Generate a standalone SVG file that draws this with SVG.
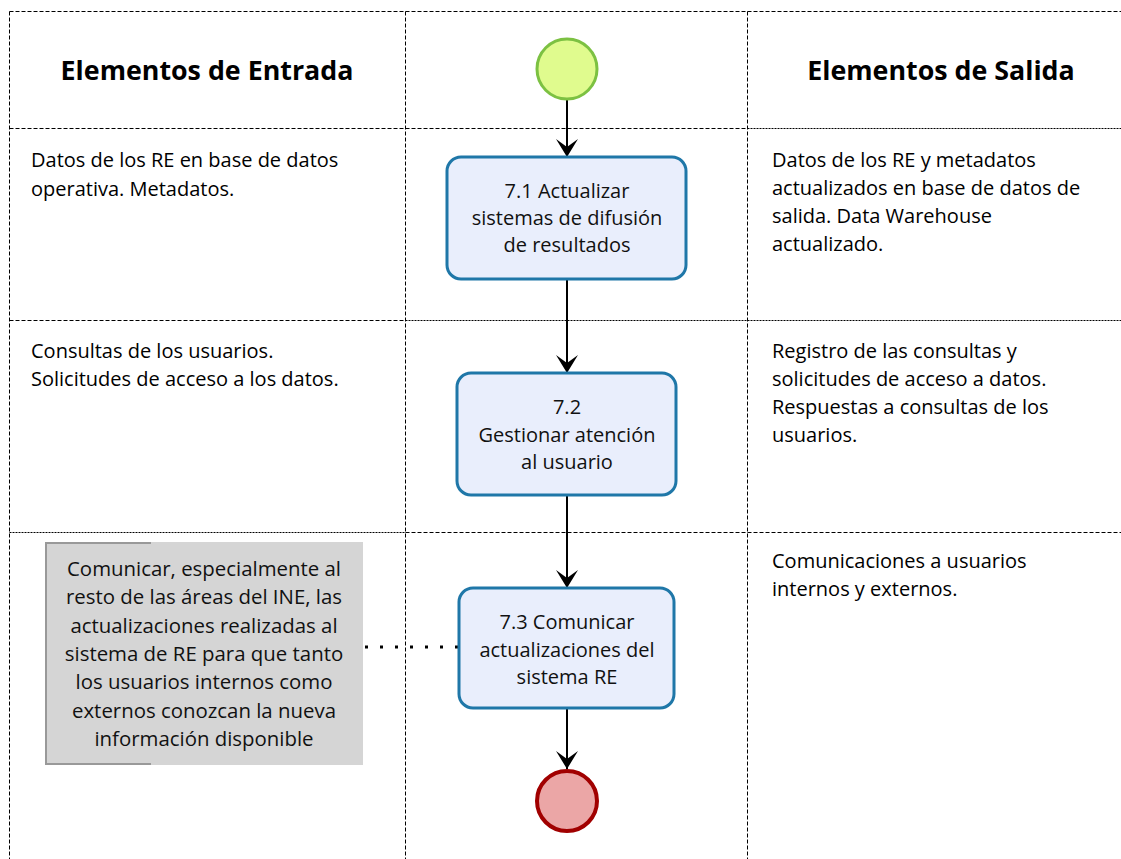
<svg xmlns="http://www.w3.org/2000/svg" width="1121" height="859" viewBox="0 0 1121 859">
<style>
.grid{stroke:#000;stroke-width:1;fill:none}
.dash{stroke-dasharray:4 2}
.fine{stroke-dasharray:2 1}
.hdr{font-family:"Open Sans","Liberation Sans",sans-serif;font-weight:bold;font-size:26.8px;fill:#000}
.body{font-family:"Open Sans","Liberation Sans",sans-serif;font-size:20px;fill:#000}
.task{fill:#e9eefc;stroke:#1f77a8;stroke-width:3}
.tlabel{font-family:"Open Sans","DejaVu Sans",sans-serif;font-size:20px;fill:#111;text-anchor:middle}
.ann{font-family:"Open Sans","DejaVu Sans",sans-serif;font-size:20.4px;fill:#111;text-anchor:middle}
.flow{stroke:#000;stroke-width:2;fill:none}
</style>
<defs>
<marker id="arr" viewBox="0 0 18 22" refX="18" refY="11" markerWidth="18" markerHeight="22" markerUnits="userSpaceOnUse" orient="auto">
<path d="M0,0 L8,11 L0,22 L18,11 Z" fill="#000"/>
</marker>
</defs>
<rect width="1121" height="859" fill="#fff"/>
<g id="grid">
<line class="grid dash" x1="9.5" y1="11.5" x2="1121" y2="11.5"/>
<line class="grid dash" x1="9.5" y1="128.5" x2="747.5" y2="128.5"/>
<line class="grid fine" x1="747.5" y1="128.5" x2="1121" y2="128.5"/>
<line class="grid dash" x1="9.5" y1="320.5" x2="405.5" y2="320.5"/>
<line class="grid fine" x1="405.5" y1="320.5" x2="1121" y2="320.5"/>
<line class="grid fine" x1="9.5" y1="532.5" x2="405.5" y2="532.5"/>
<line class="grid dash" x1="405.5" y1="532.5" x2="1121" y2="532.5"/>
<line class="grid dash" x1="9.5" y1="11.5" x2="9.5" y2="859"/>
<line class="grid dash" x1="405.5" y1="11.5" x2="405.5" y2="859"/>
<line class="grid dash" x1="747.5" y1="11.5" x2="747.5" y2="859"/>
</g>
<g id="headers">
<text class="hdr" x="207" y="80" text-anchor="middle">Elementos de Entrada</text>
<text class="hdr" x="941" y="80" text-anchor="middle">Elementos de Salida</text>
</g>
<g id="inputs">
<text class="body" x="31" y="167">Datos de los RE en base de datos</text>
<text class="body" x="31" y="196">operativa. Metadatos.</text>
<text class="body" x="31" y="358">Consultas de los usuarios.</text>
<text class="body" x="31" y="386">Solicitudes de acceso a los datos.</text>
</g>
<g id="outputs">
<text class="body" x="772" y="167">Datos de los RE y metadatos</text>
<text class="body" x="772" y="195">actualizados en base de datos de</text>
<text class="body" x="772" y="223">salida. Data Warehouse</text>
<text class="body" x="772" y="251">actualizado.</text>
<text class="body" x="772" y="358">Registro de las consultas y</text>
<text class="body" x="772" y="386">solicitudes de acceso a datos.</text>
<text class="body" x="772" y="414">Respuestas a consultas de los</text>
<text class="body" x="772" y="442">usuarios.</text>
<text class="body" x="772" y="568">Comunicaciones a usuarios</text>
<text class="body" x="772" y="596">internos y externos.</text>
</g>
<g id="connectors">
<line class="flow" x1="567" y1="100" x2="567" y2="157" marker-end="url(#arr)"/>
<line class="flow" x1="567" y1="279" x2="567" y2="373" marker-end="url(#arr)"/>
<line class="flow" x1="567" y1="495" x2="567" y2="588" marker-end="url(#arr)"/>
<line class="flow" x1="567" y1="708" x2="567" y2="769" marker-end="url(#arr)"/>
<line x1="365" y1="647" x2="459" y2="647" stroke="#000" stroke-width="3" stroke-dasharray="3 12"/>
</g>
<g id="start">
<circle cx="567" cy="69" r="30" fill="#e0fb8e" stroke="#7cc142" stroke-width="3"/>
</g>
<g id="task71">
<rect class="task" x="447" y="157" width="239" height="122" rx="14"/>
<text class="tlabel" x="567" y="198">7.1 Actualizar</text>
<text class="tlabel" x="567" y="225">sistemas de difusión</text>
<text class="tlabel" x="567" y="252">de resultados</text>
</g>
<g id="task72">
<rect class="task" x="457" y="373" width="219" height="122" rx="14"/>
<text class="tlabel" x="567" y="414">7.2</text>
<text class="tlabel" x="567" y="442">Gestionar atención</text>
<text class="tlabel" x="567" y="469">al usuario</text>
</g>
<g id="task73">
<rect class="task" x="459" y="588" width="215" height="120" rx="14"/>
<text class="tlabel" x="567" y="629">7.3 Comunicar</text>
<text class="tlabel" x="567" y="657">actualizaciones del</text>
<text class="tlabel" x="567" y="684">sistema RE</text>
</g>
<g id="end">
<circle cx="567" cy="801" r="30" fill="#eba6a6" stroke="#a10000" stroke-width="4"/>
</g>
<g id="annotation">
<rect x="45" y="542" width="318" height="223" fill="#d5d5d5"/>
<path d="M151,543 H46 V764 H151" fill="none" stroke="#999" stroke-width="2"/>
<text class="ann" x="204" y="576">Comunicar, especialmente al</text>
<text class="ann" x="204" y="604">resto de las áreas del INE, las</text>
<text class="ann" x="204" y="633">actualizaciones realizadas al</text>
<text class="ann" x="204" y="661">sistema de RE para que tanto</text>
<text class="ann" x="204" y="689">los usuarios internos como</text>
<text class="ann" x="204" y="718">externos conozcan la nueva</text>
<text class="ann" x="204" y="746">información disponible</text>
</g>
</svg>
